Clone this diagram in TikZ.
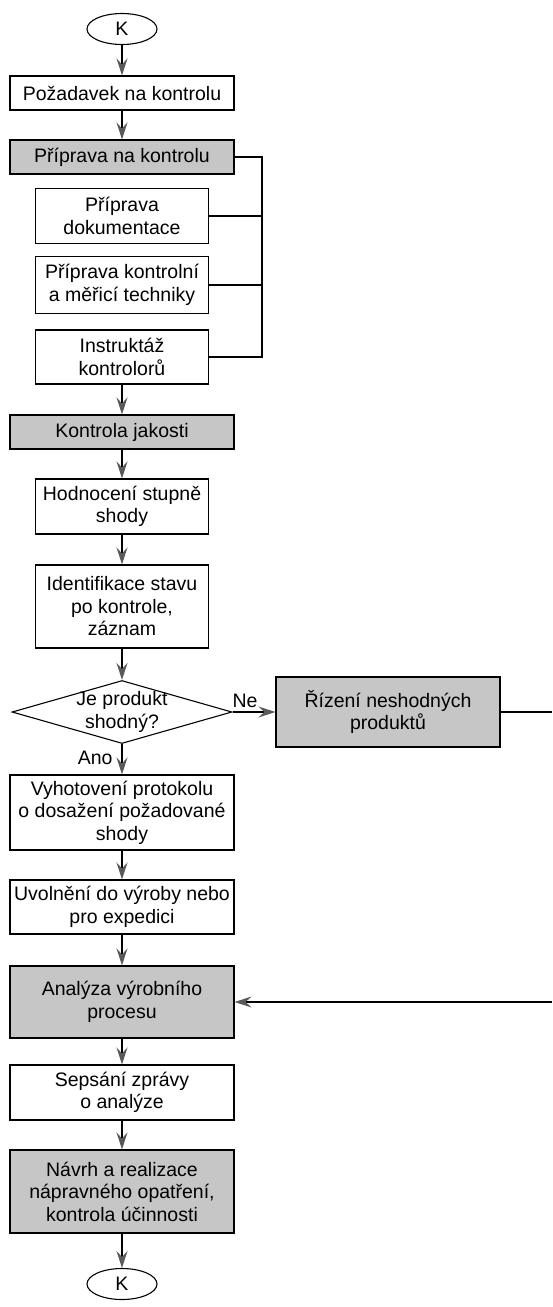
\documentclass[tikz,border=0pt]{standalone}
\usepackage{fontspec}
\setmainfont{Liberation Sans}
\usetikzlibrary{arrows.meta,shapes.geometric}
\definecolor{boxgray}{RGB}{198,198,198}
\definecolor{tipgray}{RGB}{90,90,90}
\begin{document}
\begin{tikzpicture}[x=1pt,y=-1pt,
  every node/.style={font=\fontsize{19.5}{22.5}\selectfont, align=center, inner sep=0pt},
  plainbox/.style={draw=black, line width=1.1pt, fill=white},
  graybox/.style={draw=black, line width=1.1pt, fill=boxgray},
  wide/.style={minimum width=224pt},
  narrow/.style={minimum width=173pt},
  term/.style={draw=black, line width=1.1pt, ellipse, minimum width=70pt, minimum height=31pt},
  decision/.style={draw=black, line width=1.1pt, diamond, minimum width=220pt, minimum height=63pt, shape aspect=3.5},
  flow/.style={line width=1.1pt, -{Stealth[length=17pt,width=11pt,inset=6pt,color=tipgray,fill=tipgray]}},
  link/.style={line width=1.1pt}
]
\useasboundingbox (0,0) rectangle (552,1307);

\node[term] (k1) at (122,29) {K};
\node[plainbox, wide, minimum height=34pt] (b1) at (122,93) {Požadavek na kontrolu};
\node[graybox, wide, minimum height=34pt] (b2) at (122,157) {Příprava na kontrolu};
\node[plainbox, narrow, minimum height=55pt] (b3) at (122,216) {Příprava\\dokumentace};
\node[plainbox, narrow, minimum height=57pt] (b4) at (122,285) {Příprava kontrolní\\a měřicí techniky};
\node[plainbox, narrow, minimum height=54pt] (b5) at (122,357) {Instruktáž\\kontrolorů};
\node[graybox, wide, minimum height=34pt] (b6) at (122,432) {Kontrola jakosti};
\node[plainbox, narrow, minimum height=55pt] (b7) at (122,506.5) {Hodnocení stupně\\shody};
\node[plainbox, narrow, minimum height=83pt] (b8) at (122,606.5) {Identifikace stavu\\po kontrole,\\záznam};
\node[decision] (d) at (122,712) {};
\node (dtext) at (d.center) {Je produkt\\shodný?};
\node[graybox, minimum width=224pt, minimum height=70pt] (r) at (388,712) {Řízení neshodných\\produktů};
\node[plainbox, wide, minimum height=75pt] (b10) at (122,812.5) {Vyhotovení protokolu\\o dosažení požadované\\shody};
\node[plainbox, wide, minimum height=54pt] (b11) at (122,907) {Uvolnění do výroby nebo\\pro expedici};
\node[graybox, wide, minimum height=72pt] (b12) at (122,1002) {Analýza výrobního\\procesu};
\node[plainbox, wide, minimum height=55pt] (b13) at (122,1092.5) {Sepsání zprávy\\o analýze};
\node[graybox, wide, minimum height=83pt] (b14) at (122,1191.5) {Návrh a realizace\\nápravného opatření,\\kontrola účinnosti};
\node[term] (k2) at (122,1284) {K};

\coordinate (rt) at (262,157);
\coordinate (rb) at (262,357);
\coordinate (outA) at (552,712);
\coordinate (outB) at (552,1002);

\draw[flow] (k1) -- (b1);
\draw[flow] (b1) -- (b2);
\draw[flow] (b5) -- (b6);
\draw[flow] (b6) -- (b7);
\draw[flow] (b7) -- (b8);
\draw[flow] (b8) -- (d);
\draw[flow] (d) -- node[pos=0.45, left=9pt] {Ano} (b10);
\draw[flow] (d) -- node[above=4pt, xshift=-9pt] {Ne} (r);
\draw[flow] (b10) -- (b11);
\draw[flow] (b11) -- (b12);
\draw[flow] (b12) -- (b13);
\draw[flow] (b13) -- (b14);
\draw[flow] (b14) -- (k2);

\draw[link] (b2.east) -- (rt) -- (rb) -- (b5.east);
\draw[link] (b3.east) -- (b3.east -| rt);
\draw[link] (b4.east) -- (b4.east -| rt);

\draw[link] (r.east) -- (outA);
\draw[flow] (outB) -- (b12.east);
\end{tikzpicture}
\end{document}
